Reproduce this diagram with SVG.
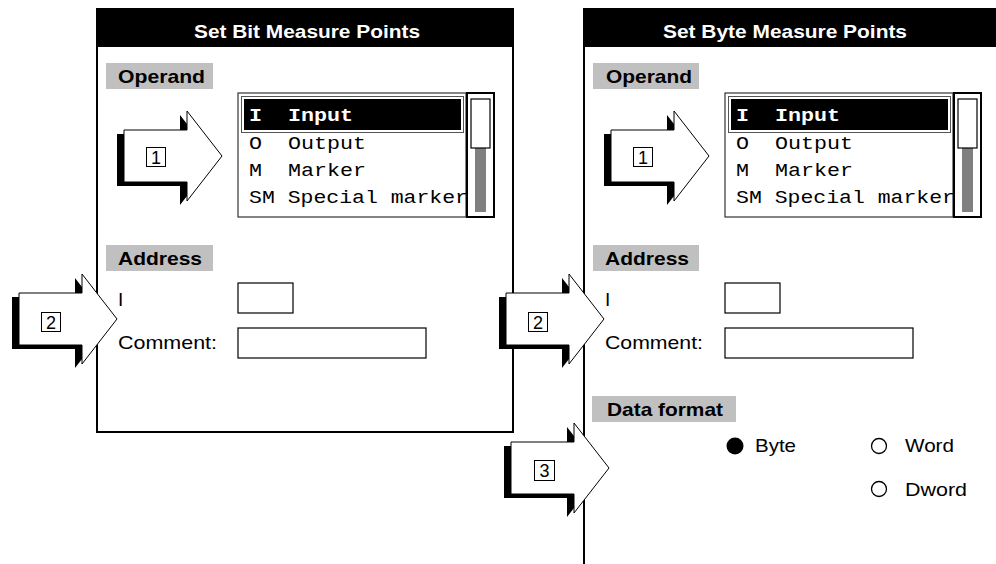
<svg xmlns="http://www.w3.org/2000/svg" width="996" height="564" viewBox="0 0 996 564">
  <defs>
    <style>
      .panel { fill: #ffffff; stroke: #000000; stroke-width: 2; }
      .titlebar { fill: #000000; }
      .title { font-family: "Liberation Sans", Arial, sans-serif; font-weight: bold; font-size: 19px; fill: #ffffff; }
      .sect { fill: #c0c0c0; }
      .lbl { font-family: "Liberation Sans", Arial, sans-serif; font-weight: bold; font-size: 18.5px; fill: #000000; }
      .txt { font-family: "Liberation Sans", Arial, sans-serif; font-size: 19px; fill: #000000; }
      .mono { font-family: "Liberation Mono", "Courier New", monospace; font-size: 17.5px; fill: #000000; white-space: pre; }
      .monosel { font-family: "Liberation Mono", "Courier New", monospace; font-size: 17.5px; font-weight: bold; fill: #ffffff; white-space: pre; }
      .field { fill: #ffffff; stroke: #000000; stroke-width: 1.2; }
      .listbox { fill: #ffffff; stroke: #333333; stroke-width: 1.2; }
      .scroll { fill: #ffffff; stroke: #000000; stroke-width: 2; }
      .thumb { fill: #ffffff; stroke: #000000; stroke-width: 1.2; }
      .track { fill: #808080; }
      .selframe { fill: #ffffff; stroke: #555555; stroke-width: 1; }
      .arrow { fill: #ffffff; stroke: #000000; stroke-width: 1; stroke-linejoin: miter; }
      .shadow { fill: #000000; }
      .numbox { fill: #ffffff; stroke: #000000; stroke-width: 1; }
      .num { font-family: "Liberation Sans", Arial, sans-serif; font-size: 18px; fill: #000000; text-anchor: middle; }
      .radio { fill: #ffffff; stroke: #000000; stroke-width: 1.3; }
    </style>
    <!-- block arrow, origin at left end of shaft, centred vertically -->
    <path id="blk" d="M0,-26 H63 V-45 L98,0 L63,45 V26 H0 Z"/>
  </defs>

  <!-- dialog: Set Bit Measure Points -->
  <g id="dlg-bit">
    <rect class="panel" x="97" y="9" width="416" height="423"/>
    <rect class="titlebar" x="97" y="9" width="416" height="38"/>
    <text class="title" x="194" y="38" textLength="226" lengthAdjust="spacingAndGlyphs">Set Bit Measure Points</text>

    <rect class="sect" x="106" y="63" width="107" height="26"/>
    <text class="lbl" x="118" y="83" textLength="87" lengthAdjust="spacingAndGlyphs">Operand</text>

    <rect class="listbox" x="238" y="93" width="228" height="124"/>
    <rect class="selframe" x="241.5" y="96.5" width="222" height="36"/>
    <rect fill="#000000" x="244" y="99" width="217" height="31"/>
    <text class="monosel" x="249" y="121" textLength="104" lengthAdjust="spacingAndGlyphs" xml:space="preserve">I  Input</text>
    <text class="mono" x="249" y="149" textLength="117" lengthAdjust="spacingAndGlyphs" xml:space="preserve">O  Output</text>
    <text class="mono" x="249" y="176" textLength="117" lengthAdjust="spacingAndGlyphs" xml:space="preserve">M  Marker</text>
    <text class="mono" x="249" y="203" textLength="219" lengthAdjust="spacingAndGlyphs" xml:space="preserve">SM Special marker</text>
    <rect class="scroll" x="467" y="93" width="27" height="124"/>
    <rect class="track" x="475" y="148" width="11" height="64"/>
    <rect class="thumb" x="471" y="99" width="19" height="49"/>

    <rect class="sect" x="106" y="245" width="107" height="26"/>
    <text class="lbl" x="118" y="265" textLength="84" lengthAdjust="spacingAndGlyphs">Address</text>
    <text class="txt" x="118" y="306">I</text>
    <rect class="field" x="238" y="283" width="55" height="30"/>
    <text class="txt" x="118" y="349" textLength="99" lengthAdjust="spacingAndGlyphs">Comment:</text>
    <rect class="field" x="238" y="328" width="188" height="30"/>
  </g>

  <!-- dialog: Set Byte Measure Points -->
  <g id="dlg-byte">
    <rect class="panel" x="584" y="9" width="420" height="600"/>
    <rect class="titlebar" x="584" y="9" width="420" height="38"/>
    <text class="title" x="663" y="38" textLength="244" lengthAdjust="spacingAndGlyphs">Set Byte Measure Points</text>

    <rect class="sect" x="593" y="63" width="106" height="26"/>
    <text class="lbl" x="606" y="83" textLength="86" lengthAdjust="spacingAndGlyphs">Operand</text>

    <rect class="listbox" x="725" y="93" width="228" height="124"/>
    <rect class="selframe" x="728.5" y="96.5" width="222" height="36"/>
    <rect fill="#000000" x="731" y="99" width="217" height="31"/>
    <text class="monosel" x="736" y="121" textLength="104" lengthAdjust="spacingAndGlyphs" xml:space="preserve">I  Input</text>
    <text class="mono" x="736" y="149" textLength="117" lengthAdjust="spacingAndGlyphs" xml:space="preserve">O  Output</text>
    <text class="mono" x="736" y="176" textLength="117" lengthAdjust="spacingAndGlyphs" xml:space="preserve">M  Marker</text>
    <text class="mono" x="736" y="203" textLength="219" lengthAdjust="spacingAndGlyphs" xml:space="preserve">SM Special marker</text>
    <rect class="scroll" x="954" y="93" width="27" height="124"/>
    <rect class="track" x="962" y="148" width="11" height="64"/>
    <rect class="thumb" x="958" y="99" width="19" height="49"/>

    <rect class="sect" x="593" y="245" width="106" height="26"/>
    <text class="lbl" x="605" y="265" textLength="84" lengthAdjust="spacingAndGlyphs">Address</text>
    <text class="txt" x="605" y="306">I</text>
    <rect class="field" x="725" y="283" width="55" height="30"/>
    <text class="txt" x="605" y="349" textLength="98" lengthAdjust="spacingAndGlyphs">Comment:</text>
    <rect class="field" x="725" y="328" width="188" height="30"/>

    <rect class="sect" x="592" y="396" width="144" height="26"/>
    <text class="lbl" x="607" y="416" textLength="116" lengthAdjust="spacingAndGlyphs">Data format</text>

    <circle fill="#000000" cx="735" cy="446" r="8.5"/>
    <text class="txt" x="755" y="452" textLength="41" lengthAdjust="spacingAndGlyphs">Byte</text>
    <circle class="radio" cx="879" cy="446" r="7.5"/>
    <text class="txt" x="905" y="452" textLength="49" lengthAdjust="spacingAndGlyphs">Word</text>
    <circle class="radio" cx="879" cy="489" r="7.5"/>
    <text class="txt" x="905" y="496" textLength="62" lengthAdjust="spacingAndGlyphs">Dword</text>
  </g>

  <!-- numbered pointer arrows -->
  <g id="connectors">
    <g id="arrow-1a" transform="translate(124,156)">
      <use href="#blk" class="shadow" transform="translate(-7,4)"/>
      <use href="#blk" class="arrow"/>
      <rect class="numbox" x="22.5" y="-8.5" width="19" height="19"/>
      <text class="num" x="32" y="7.5">1</text>
    </g>
    <g id="arrow-2a" transform="translate(19,319)">
      <use href="#blk" class="shadow" transform="translate(-7,4)"/>
      <use href="#blk" class="arrow"/>
      <rect class="numbox" x="22.5" y="-6.5" width="19" height="19"/>
      <text class="num" x="32" y="9.5">2</text>
    </g>
    <g id="arrow-1b" transform="translate(611,156)">
      <use href="#blk" class="shadow" transform="translate(-7,4)"/>
      <use href="#blk" class="arrow"/>
      <rect class="numbox" x="22.5" y="-8.5" width="19" height="19"/>
      <text class="num" x="32" y="7.5">1</text>
    </g>
    <g id="arrow-2b" transform="translate(506,319)">
      <use href="#blk" class="shadow" transform="translate(-7,4)"/>
      <use href="#blk" class="arrow"/>
      <rect class="numbox" x="22.5" y="-6.5" width="19" height="19"/>
      <text class="num" x="32" y="9.5">2</text>
    </g>
    <g id="arrow-3" transform="translate(511,468)">
      <use href="#blk" class="shadow" transform="translate(-7,4)"/>
      <use href="#blk" class="arrow"/>
      <rect class="numbox" x="23.5" y="-7.5" width="20" height="20"/>
      <text class="num" x="33.5" y="9">3</text>
    </g>
  </g>
</svg>
